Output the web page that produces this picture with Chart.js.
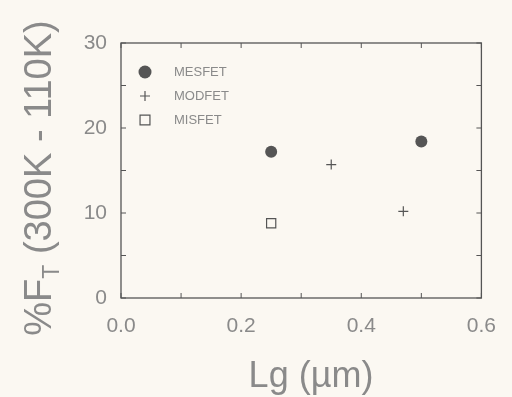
<!DOCTYPE html>
<html>
<head>
<meta charset="utf-8">
<script src="https://cdn.jsdelivr.net/npm/chart.js@4"></script>
<style>
  html, body { margin: 0; padding: 0; background: #fbf8f2; }
  canvas { display: block; }
</style>
</head>
<body>
<canvas id="chart" width="512" height="397"></canvas>
<script>
// gate length (um) vs. percent change in fT between 300K and 110K
const mesfetLg = [0.25, 0.50]
const mesfetFt = [17.2, 18.4]
const modfetLg = [0.35, 0.47]
const modfetFt = [15.7, 10.2]
const misfetLg = [0.25]
const misfetFt = [8.8]

const xTicks = [0, 0.1, 0.2, 0.3, 0.4, 0.5, 0.6]
const yTicks = [0, 5, 10, 15, 20, 25, 30]

const INK = "#555"
const TEXT = "#8a8a8a"
const FONT = "Liberation Sans, Arial, sans-serif"

const pts = (xs, ys) => xs.map((x, i) => ({ x, y: ys[i] }))

const legendItems = [
  { label: "MESFET", style: "circle", radius: 6.5 },
  { label: "MODFET", style: "cross", radius: 5 },
  { label: "MISFET", style: "rect", radius: 7 }
]

function marker(ctx, style, x, y, r) {
  ctx.save()
  ctx.strokeStyle = INK
  ctx.fillStyle = INK
  ctx.lineWidth = 1.2
  ctx.beginPath()
  if (style === "circle") {
    ctx.arc(x, y, r, 0, Math.PI * 2)
    ctx.fill()
  } else if (style === "cross") {
    ctx.moveTo(x - r, y); ctx.lineTo(x + r, y)
    ctx.moveTo(x, y - r); ctx.lineTo(x, y + r)
    ctx.stroke()
  } else {
    const s = r * Math.SQRT1_2
    ctx.rect(x - s, y - s, 2 * s, 2 * s)
    ctx.stroke()
  }
  ctx.restore()
}

// frame, inward ticks, legend and axis titles
const decorations = {
  id: "decorations",
  beforeDraw(chart) {
    const ctx = chart.ctx
    ctx.save()
    ctx.fillStyle = "#fbf8f2"
    ctx.fillRect(0, 0, chart.width, chart.height)
    ctx.restore()
  },
  afterDraw(chart) {
    const { ctx, chartArea: a, scales } = chart
    ctx.save()
    ctx.strokeStyle = INK
    ctx.lineWidth = 1.3
    ctx.strokeRect(a.left, a.top, a.right - a.left, a.bottom - a.top)

    ctx.lineWidth = 1
    ctx.beginPath()
    xTicks.forEach(v => {
      const px = scales.x.getPixelForValue(v)
      ctx.moveTo(px, a.bottom); ctx.lineTo(px, a.bottom - 5)
      ctx.moveTo(px, a.top); ctx.lineTo(px, a.top + 5)
    })
    yTicks.forEach(v => {
      const py = scales.y.getPixelForValue(v)
      ctx.moveTo(a.left, py); ctx.lineTo(a.left + 5, py)
      ctx.moveTo(a.right, py); ctx.lineTo(a.right - 5, py)
    })
    ctx.stroke()

    // legend
    ctx.font = `13px ${FONT}`
    ctx.fillStyle = TEXT
    ctx.textBaseline = "middle"
    legendItems.forEach((item, i) => {
      const y = a.top + 29 + i * 24
      marker(ctx, item.style, a.left + 24, y, item.radius)
      ctx.fillText(item.label, a.left + 53, y)
    })

    // x title
    ctx.fillStyle = TEXT
    ctx.font = `36px ${FONT}`
    ctx.textAlign = "center"
    ctx.textBaseline = "alphabetic"
    ctx.fillText("Lg (\u00b5m)", 311, 387)

    // y title with subscript T
    ctx.translate(51, 178)
    ctx.rotate(-Math.PI / 2)
    const big = `38px ${FONT}`
    const small = `23px ${FONT}`
    ctx.font = big
    const w1 = ctx.measureText("%F").width
    const w3 = ctx.measureText(" (300K - 110K)").width
    ctx.font = small
    const w2 = ctx.measureText("T").width
    let x0 = -(w1 + w2 + w3) / 2
    ctx.textAlign = "left"
    ctx.font = big
    ctx.fillText("%F", x0, 0)
    ctx.font = small
    ctx.fillText("T", x0 + w1, 8)
    ctx.font = big
    ctx.fillText(" (300K - 110K)", x0 + w1 + w2, 0)
    ctx.restore()
  }
}

new Chart(document.getElementById("chart"), {
  type: "scatter",
  data: {
    datasets: [
      { label: "MESFET", data: pts(mesfetLg, mesfetFt), pointStyle: "circle", pointRadius: 6,
        backgroundColor: INK, borderColor: INK, borderWidth: 0 },
      { label: "MODFET", data: pts(modfetLg, modfetFt), pointStyle: "cross", pointRadius: 5,
        backgroundColor: INK, borderColor: INK, borderWidth: 1.2 },
      { label: "MISFET", data: pts(misfetLg, misfetFt), pointStyle: "rect", pointRadius: 6.5,
        backgroundColor: "transparent", borderColor: INK, borderWidth: 1.2 }
    ]
  },
  options: {
    responsive: false,
    animation: false,
    layout: { padding: { top: 43, right: 26, left: 0, bottom: 0 } },
    plugins: { legend: { display: false }, tooltip: { enabled: false } },
    scales: {
      x: {
        type: "linear", min: 0, max: 0.6,
        afterBuildTicks: s => { s.ticks = xTicks.map(value => ({ value })) },
        afterFit: s => { s.height = 99 },
        grid: { display: false, drawTicks: false },
        border: { display: false },
        ticks: {
          padding: 16, color: TEXT, font: { family: FONT, size: 21 },
          callback: v => (Math.round(v * 10) % 2 === 0 ? v.toFixed(1) : "")
        }
      },
      y: {
        type: "linear", min: 0, max: 30,
        afterBuildTicks: s => { s.ticks = yTicks.map(value => ({ value })) },
        afterFit: s => { s.width = 121 },
        grid: { display: false, drawTicks: false },
        border: { display: false },
        ticks: {
          padding: 14, color: TEXT, font: { family: FONT, size: 21 },
          callback: v => (v % 10 === 0 ? String(v) : "")
        }
      }
    }
  },
  plugins: [decorations]
})
</script>
</body>
</html>
